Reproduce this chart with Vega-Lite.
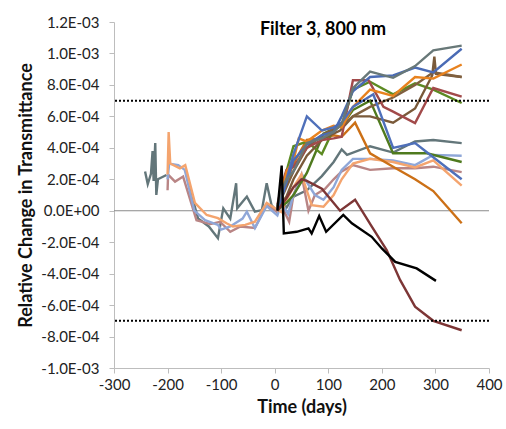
{
  "$schema": "https://vega.github.io/schema/vega-lite/v6.json",
  "width": 375,
  "height": 346,
  "autosize": "none",
  "padding": {"left": 114, "top": 22, "right": 17, "bottom": 61},
  "background": "white",
  "config": {
    "view": {"stroke": null},
    "font": "Lato",
    "axis": {"labelFont": "Lato", "titleFont": "Lato", "labelColor": "#222", "titleColor": "#111", "grid": false, "domainColor": "#BDBDBD", "tickColor": "#BDBDBD", "labelFontSize": 15, "titleFontSize": 18, "titleFontWeight": "bold", "labelOverlap": false}
  },
  "datasets": {
    "series": [
      {"s": "G0", "d": -242, "v": 2.5e-4}, {"s": "G0", "d": -237, "v": 1.7e-4}, {"s": "G0", "d": -231, "v": 2.35e-4}, {"s": "G0", "d": -228, "v": 3.8e-4}, {"s": "G0", "d": -226, "v": 1.9e-4}, {"s": "G0", "d": -223, "v": 4.3e-4}, {"s": "G0", "d": -221, "v": 1.0e-4}, {"s": "G0", "d": -218, "v": 2.0e-4}, {"s": "G0", "d": -202, "v": 2.27e-4},

      {"s": "G1", "d": -160, "v": 1.6e-4}, {"s": "G1", "d": -143, "v": -0.5e-4}, {"s": "G1", "d": -123, "v": -1.0e-4}, {"s": "G1", "d": -106, "v": -1.75e-4}, {"s": "G1", "d": -96, "v": 0.15e-4}, {"s": "G1", "d": -83, "v": -0.5e-4}, {"s": "G1", "d": -72, "v": 1.75e-4}, {"s": "G1", "d": -70, "v": 0.15e-4}, {"s": "G1", "d": -52, "v": 0.9e-4}, {"s": "G1", "d": -37, "v": -0.06e-4}, {"s": "G1", "d": -24, "v": 0.04e-4}, {"s": "G1", "d": -15, "v": 1.75e-4}, {"s": "G1", "d": -6, "v": 0.36e-4}, {"s": "G1", "d": 3, "v": 0.0}, {"s": "G1", "d": 13, "v": 0.6e-4}, {"s": "G1", "d": 22, "v": 0.2e-4}, {"s": "G1", "d": 35, "v": 0.9e-4}, {"s": "G1", "d": 60, "v": 1.3e-4}, {"s": "G1", "d": 88, "v": 2.2e-4}, {"s": "G1", "d": 110, "v": 3.1e-4}, {"s": "G1", "d": 125, "v": 3.9e-4}, {"s": "G1", "d": 135, "v": 3.55e-4}, {"s": "G1", "d": 178, "v": 4.1e-4}, {"s": "G1", "d": 221, "v": 3.7e-4}, {"s": "G1", "d": 262, "v": 4.4e-4}, {"s": "G1", "d": 296, "v": 4.5e-4}, {"s": "G1", "d": 349, "v": 4.3e-4},

      {"s": "RO", "d": -200, "v": 1.3e-4}, {"s": "RO", "d": -199, "v": 2.3e-4}, {"s": "RO", "d": -186, "v": 1.85e-4}, {"s": "RO", "d": -171, "v": 2.17e-4}, {"s": "RO", "d": -146, "v": -0.6e-4}, {"s": "RO", "d": -120, "v": -0.85e-4}, {"s": "RO", "d": -102, "v": -0.7e-4}, {"s": "RO", "d": -83, "v": -1.34e-4}, {"s": "RO", "d": -64, "v": -1.0e-4}, {"s": "RO", "d": -37, "v": -1.1e-4}, {"s": "RO", "d": -15, "v": 0.4e-4}, {"s": "RO", "d": 4, "v": -0.06e-4}, {"s": "RO", "d": 13, "v": 0.3e-4}, {"s": "RO", "d": 27, "v": -0.7e-4}, {"s": "RO", "d": 35, "v": 1.0e-4}, {"s": "RO", "d": 50, "v": 2.3e-4}, {"s": "RO", "d": 63, "v": 0.0}, {"s": "RO", "d": 75, "v": 1.0e-4}, {"s": "RO", "d": 94, "v": 1.4e-4}, {"s": "RO", "d": 110, "v": 2.0e-4}, {"s": "RO", "d": 125, "v": 2.5e-4}, {"s": "RO", "d": 146, "v": 2.9e-4}, {"s": "RO", "d": 178, "v": 2.6e-4}, {"s": "RO", "d": 221, "v": 2.7e-4}, {"s": "RO", "d": 262, "v": 2.7e-4}, {"s": "RO", "d": 296, "v": 2.8e-4}, {"s": "RO", "d": 349, "v": 2.45e-4},

      {"s": "LB", "d": -200, "v": 2.0e-4}, {"s": "LB", "d": -197, "v": 3.0e-4}, {"s": "LB", "d": -180, "v": 2.9e-4}, {"s": "LB", "d": -168, "v": 2.6e-4}, {"s": "LB", "d": -150, "v": 0.0}, {"s": "LB", "d": -130, "v": -0.6e-4}, {"s": "LB", "d": -106, "v": -0.9e-4}, {"s": "LB", "d": -100, "v": -1.2e-4}, {"s": "LB", "d": -83, "v": -1.0e-4}, {"s": "LB", "d": -60, "v": -0.5e-4}, {"s": "LB", "d": -52, "v": -0.06e-4}, {"s": "LB", "d": -37, "v": -1.1e-4}, {"s": "LB", "d": -15, "v": 0.3e-4}, {"s": "LB", "d": 5, "v": -0.3e-4}, {"s": "LB", "d": 13, "v": 0.5e-4}, {"s": "LB", "d": 25, "v": -0.2e-4}, {"s": "LB", "d": 35, "v": 1.0e-4}, {"s": "LB", "d": 53, "v": 2.2e-4}, {"s": "LB", "d": 75, "v": 1.0e-4}, {"s": "LB", "d": 91, "v": 0.7e-4}, {"s": "LB", "d": 110, "v": 1.5e-4}, {"s": "LB", "d": 125, "v": 2.6e-4}, {"s": "LB", "d": 146, "v": 3.3e-4}, {"s": "LB", "d": 178, "v": 3.3e-4}, {"s": "LB", "d": 221, "v": 3.2e-4}, {"s": "LB", "d": 262, "v": 2.9e-4}, {"s": "LB", "d": 296, "v": 3.55e-4}, {"s": "LB", "d": 349, "v": 3.5e-4},

      {"s": "LO", "d": -200, "v": 2.3e-4}, {"s": "LO", "d": -198, "v": 5.0e-4}, {"s": "LO", "d": -195, "v": 3.0e-4}, {"s": "LO", "d": -177, "v": 2.7e-4}, {"s": "LO", "d": -167, "v": 2.9e-4}, {"s": "LO", "d": -149, "v": 0.5e-4}, {"s": "LO", "d": -127, "v": -0.27e-4}, {"s": "LO", "d": -106, "v": -0.47e-4}, {"s": "LO", "d": -90, "v": -0.8e-4}, {"s": "LO", "d": -78, "v": -1.0e-4}, {"s": "LO", "d": -55, "v": -0.9e-4}, {"s": "LO", "d": -37, "v": -0.7e-4}, {"s": "LO", "d": -15, "v": 0.5e-4}, {"s": "LO", "d": 6, "v": 0.04e-4}, {"s": "LO", "d": 13, "v": -0.1e-4}, {"s": "LO", "d": 22, "v": 0.7e-4}, {"s": "LO", "d": 35, "v": 1.5e-4}, {"s": "LO", "d": 50, "v": 2.3e-4}, {"s": "LO", "d": 69, "v": 0.36e-4}, {"s": "LO", "d": 91, "v": 0.25e-4}, {"s": "LO", "d": 110, "v": 1.0e-4}, {"s": "LO", "d": 125, "v": 2.0e-4}, {"s": "LO", "d": 146, "v": 3.0e-4}, {"s": "LO", "d": 178, "v": 3.3e-4}, {"s": "LO", "d": 221, "v": 3.1e-4}, {"s": "LO", "d": 262, "v": 2.75e-4}, {"s": "LO", "d": 296, "v": 3.2e-4}, {"s": "LO", "d": 349, "v": 1.6e-4},

      {"s": "G2", "d": 5, "v": 0.0}, {"s": "G2", "d": 13, "v": 0.3e-4}, {"s": "G2", "d": 22, "v": 0.5e-4}, {"s": "G2", "d": 35, "v": 1.0e-4}, {"s": "G2", "d": 60, "v": 2.4e-4}, {"s": "G2", "d": 91, "v": 4.9e-4}, {"s": "G2", "d": 110, "v": 5.2e-4}, {"s": "G2", "d": 125, "v": 5.4e-4}, {"s": "G2", "d": 146, "v": 6.4e-4}, {"s": "G2", "d": 178, "v": 7.0e-4}, {"s": "G2", "d": 221, "v": 3.65e-4}, {"s": "G2", "d": 284, "v": 3.65e-4}, {"s": "G2", "d": 349, "v": 3.1e-4},

      {"s": "DO", "d": 5, "v": 0.2e-4}, {"s": "DO", "d": 13, "v": 1.0e-4}, {"s": "DO", "d": 22, "v": 1.8e-4}, {"s": "DO", "d": 35, "v": 3.0e-4}, {"s": "DO", "d": 60, "v": 4.5e-4}, {"s": "DO", "d": 88, "v": 4.6e-4}, {"s": "DO", "d": 110, "v": 4.8e-4}, {"s": "DO", "d": 125, "v": 4.7e-4}, {"s": "DO", "d": 150, "v": 5.6e-4}, {"s": "DO", "d": 178, "v": 3.65e-4}, {"s": "DO", "d": 221, "v": 2.8e-4}, {"s": "DO", "d": 262, "v": 2.0e-4}, {"s": "DO", "d": 296, "v": 1.25e-4}, {"s": "DO", "d": 349, "v": -0.8e-4},

      {"s": "GR", "d": 5, "v": 0.3e-4}, {"s": "GR", "d": 13, "v": 1.2e-4}, {"s": "GR", "d": 22, "v": 2.5e-4}, {"s": "GR", "d": 35, "v": 4.1e-4}, {"s": "GR", "d": 60, "v": 4.4e-4}, {"s": "GR", "d": 88, "v": 3.6e-4}, {"s": "GR", "d": 110, "v": 5.2e-4}, {"s": "GR", "d": 125, "v": 5.4e-4}, {"s": "GR", "d": 146, "v": 7.7e-4}, {"s": "GR", "d": 178, "v": 8.2e-4}, {"s": "GR", "d": 221, "v": 7.4e-4}, {"s": "GR", "d": 262, "v": 8.1e-4}, {"s": "GR", "d": 296, "v": 7.7e-4}, {"s": "GR", "d": 349, "v": 6.85e-4},

      {"s": "BA", "d": 5, "v": 0.1e-4}, {"s": "BA", "d": 13, "v": 0.5e-4}, {"s": "BA", "d": 22, "v": 0.9e-4}, {"s": "BA", "d": 35, "v": 2.0e-4}, {"s": "BA", "d": 60, "v": 3.5e-4}, {"s": "BA", "d": 91, "v": 4.6e-4}, {"s": "BA", "d": 122, "v": 5.1e-4}, {"s": "BA", "d": 146, "v": 6.0e-4}, {"s": "BA", "d": 178, "v": 6.0e-4}, {"s": "BA", "d": 221, "v": 5.6e-4}, {"s": "BA", "d": 262, "v": 6.5e-4}, {"s": "BA", "d": 294, "v": 8.6e-4}, {"s": "BA", "d": 298, "v": 9.8e-4}, {"s": "BA", "d": 301, "v": 8.7e-4}, {"s": "BA", "d": 349, "v": 8.5e-4},

      {"s": "BB", "d": 5, "v": 0.2e-4}, {"s": "BB", "d": 22, "v": 1.5e-4}, {"s": "BB", "d": 35, "v": 2.5e-4}, {"s": "BB", "d": 60, "v": 4.0e-4}, {"s": "BB", "d": 88, "v": 4.8e-4}, {"s": "BB", "d": 110, "v": 5.2e-4}, {"s": "BB", "d": 125, "v": 5.4e-4}, {"s": "BB", "d": 146, "v": 6.0e-4}, {"s": "BB", "d": 178, "v": 6.6e-4}, {"s": "BB", "d": 221, "v": 7.2e-4}, {"s": "BB", "d": 262, "v": 8.0e-4}, {"s": "BB", "d": 296, "v": 8.8e-4}, {"s": "BB", "d": 349, "v": 8.5e-4},

      {"s": "MA", "d": 5, "v": 0.4e-4}, {"s": "MA", "d": 13, "v": 1.6e-4}, {"s": "MA", "d": 22, "v": 2.6e-4}, {"s": "MA", "d": 35, "v": 2.8e-4}, {"s": "MA", "d": 60, "v": 4.0e-4}, {"s": "MA", "d": 88, "v": 4.5e-4}, {"s": "MA", "d": 110, "v": 4.6e-4}, {"s": "MA", "d": 125, "v": 4.7e-4}, {"s": "MA", "d": 146, "v": 8.3e-4}, {"s": "MA", "d": 175, "v": 8.3e-4}, {"s": "MA", "d": 203, "v": 6.6e-4}, {"s": "MA", "d": 221, "v": 6.3e-4}, {"s": "MA", "d": 262, "v": 5.57e-4}, {"s": "MA", "d": 296, "v": 7.8e-4}, {"s": "MA", "d": 349, "v": 7.26e-4},

      {"s": "OR", "d": 5, "v": 0.2e-4}, {"s": "OR", "d": 13, "v": 1.2e-4}, {"s": "OR", "d": 22, "v": 2.5e-4}, {"s": "OR", "d": 35, "v": 3.2e-4}, {"s": "OR", "d": 45, "v": 4.6e-4}, {"s": "OR", "d": 60, "v": 4.4e-4}, {"s": "OR", "d": 88, "v": 5.1e-4}, {"s": "OR", "d": 110, "v": 5.4e-4}, {"s": "OR", "d": 125, "v": 5.3e-4}, {"s": "OR", "d": 146, "v": 6.6e-4}, {"s": "OR", "d": 178, "v": 7.7e-4}, {"s": "OR", "d": 221, "v": 7.3e-4}, {"s": "OR", "d": 262, "v": 8.5e-4}, {"s": "OR", "d": 296, "v": 8.4e-4}, {"s": "OR", "d": 349, "v": 9.3e-4},

      {"s": "B2", "d": 5, "v": 0.2e-4}, {"s": "B2", "d": 13, "v": 1.0e-4}, {"s": "B2", "d": 22, "v": 2.0e-4}, {"s": "B2", "d": 35, "v": 3.6e-4}, {"s": "B2", "d": 60, "v": 6.0e-4}, {"s": "B2", "d": 88, "v": 5.1e-4}, {"s": "B2", "d": 110, "v": 5.3e-4}, {"s": "B2", "d": 125, "v": 5.6e-4}, {"s": "B2", "d": 146, "v": 6.6e-4}, {"s": "B2", "d": 184, "v": 7.4e-4}, {"s": "B2", "d": 221, "v": 4.0e-4}, {"s": "B2", "d": 262, "v": 4.3e-4}, {"s": "B2", "d": 296, "v": 3.4e-4}, {"s": "B2", "d": 349, "v": 2.0e-4},

      {"s": "BL", "d": 5, "v": 0.1e-4}, {"s": "BL", "d": 13, "v": 0.8e-4}, {"s": "BL", "d": 22, "v": 1.8e-4}, {"s": "BL", "d": 35, "v": 3.2e-4}, {"s": "BL", "d": 60, "v": 4.2e-4}, {"s": "BL", "d": 88, "v": 4.8e-4}, {"s": "BL", "d": 110, "v": 5.0e-4}, {"s": "BL", "d": 125, "v": 6.0e-4}, {"s": "BL", "d": 146, "v": 7.6e-4}, {"s": "BL", "d": 178, "v": 8.5e-4}, {"s": "BL", "d": 221, "v": 8.6e-4}, {"s": "BL", "d": 262, "v": 9.1e-4}, {"s": "BL", "d": 296, "v": 8.8e-4}, {"s": "BL", "d": 349, "v": 10.3e-4},

      {"s": "GT", "d": 5, "v": 0.3e-4}, {"s": "GT", "d": 13, "v": 1.3e-4}, {"s": "GT", "d": 22, "v": 2.0e-4}, {"s": "GT", "d": 35, "v": 2.5e-4}, {"s": "GT", "d": 60, "v": 4.3e-4}, {"s": "GT", "d": 88, "v": 4.6e-4}, {"s": "GT", "d": 110, "v": 5.0e-4}, {"s": "GT", "d": 125, "v": 5.5e-4}, {"s": "GT", "d": 146, "v": 7.8e-4}, {"s": "GT", "d": 178, "v": 8.85e-4}, {"s": "GT", "d": 221, "v": 8.45e-4}, {"s": "GT", "d": 262, "v": 9.2e-4}, {"s": "GT", "d": 296, "v": 10.2e-4}, {"s": "GT", "d": 349, "v": 10.5e-4},

      {"s": "DR", "d": 5, "v": 0.0}, {"s": "DR", "d": 22, "v": 0.8e-4}, {"s": "DR", "d": 35, "v": 1.5e-4}, {"s": "DR", "d": 50, "v": 2.0e-4}, {"s": "DR", "d": 60, "v": 1.9e-4}, {"s": "DR", "d": 88, "v": 1.4e-4}, {"s": "DR", "d": 122, "v": 0.0}, {"s": "DR", "d": 150, "v": 0.7e-4}, {"s": "DR", "d": 181, "v": -1.0e-4}, {"s": "DR", "d": 209, "v": -2.5e-4}, {"s": "DR", "d": 234, "v": -4.4e-4}, {"s": "DR", "d": 262, "v": -6.1e-4}, {"s": "DR", "d": 296, "v": -7.0e-4}, {"s": "DR", "d": 349, "v": -7.6e-4},

      {"s": "BK", "d": 5, "v": 0.0}, {"s": "BK", "d": 13, "v": 2.87e-4}, {"s": "BK", "d": 17, "v": -1.44e-4}, {"s": "BK", "d": 41, "v": -1.34e-4}, {"s": "BK", "d": 63, "v": -1.12e-4}, {"s": "BK", "d": 69, "v": -1.44e-4}, {"s": "BK", "d": 83, "v": -0.34e-4}, {"s": "BK", "d": 96, "v": -1.34e-4}, {"s": "BK", "d": 128, "v": -0.27e-4}, {"s": "BK", "d": 144, "v": -0.8e-4}, {"s": "BK", "d": 181, "v": -1.66e-4}, {"s": "BK", "d": 200, "v": -2.4e-4}, {"s": "BK", "d": 225, "v": -3.25e-4}, {"s": "BK", "d": 265, "v": -3.67e-4}, {"s": "BK", "d": 301, "v": -4.46e-4}
    ]
  },
  "encoding": {
    "y": {
      "field": "v", "type": "quantitative",
      "scale": {"domain": [-0.001, 0.0012], "nice": false, "zero": false},
      "axis": {"title": "Relative Change in Transmittance", "values": [-0.001, -0.0008, -0.0006, -0.0004, -0.0002, 0, 0.0002, 0.0004, 0.0006, 0.0008, 0.001, 0.0012], "tickSize": 5, "labelPadding": 10, "titlePadding": 5, "labelFlush": false, "labelOverlap": false, "labelBound": false,
        "labelExpr": "abs(datum.value) < 1e-9 ? '0.0E+00' : (datum.value < 0 ? '-' : '') + (abs(round(datum.value * 10000)) >= 10 ? format(abs(round(datum.value * 10000)) / 10, '.1f') + 'E-03' : format(abs(round(datum.value * 10000)), '.1f') + 'E-04')"}
    }
  },
  "layer": [
    {
      "data": {"values": [{"v": 0}]},
      "mark": {"type": "rule", "color": "#8A8A8A", "strokeWidth": 1.2},
      "encoding": {}
    },
    {
      "data": {"name": "series"},
      "mark": {"type": "line", "strokeWidth": 2.4, "strokeJoin": "miter", "strokeCap": "butt"},
      "encoding": {
        "x": {
          "field": "d", "type": "quantitative",
          "scale": {"domain": [-300, 400], "nice": false, "zero": false},
          "axis": {"title": "Time (days)", "values": [-300, -200, -100, 0, 100, 200, 300, 400], "tickSize": 5, "labelPadding": 4, "titlePadding": 6, "labelOverlap": false, "labelExpr": "(datum.value < 0 ? '-' : '') + abs(datum.value)", "labelFlush": false}
        },
        "color": {
          "field": "s", "type": "nominal", "legend": null,
          "scale": {
            "domain": ["G0", "G1", "RO", "LB", "LO", "G2", "DO", "GR", "BA", "BB", "MA", "OR", "B2", "BL", "GT", "DR", "BK"],
            "range": ["#63767A", "#63767A", "#B98585", "#8FA7D8", "#F4A46E", "#4F7A1E", "#CC7016", "#5C8A22", "#7A5A3A", "#80603F", "#A24A4A", "#E8821E", "#4F70BA", "#4A6BB5", "#687878", "#7D3636", "#000000"]
          }
        }
      }
    },
    {
      "data": {"values": [{"v": 0.0007}, {"v": -0.0007}]},
      "mark": {"type": "rule", "color": "#000", "strokeWidth": 2, "strokeDash": [2, 2]},
      "encoding": {}
    },
    {
      "data": {"values": [{"label": "Filter 3, 800 nm", "d": 90, "v": 0.00115}]},
      "mark": {"type": "text", "font": "Lato", "fontSize": 18, "fontWeight": "bold", "color": "#000", "align": "center", "baseline": "middle"},
      "encoding": {
        "x": {"field": "d", "type": "quantitative"},
        "text": {"field": "label"}
      }
    }
  ]
}
